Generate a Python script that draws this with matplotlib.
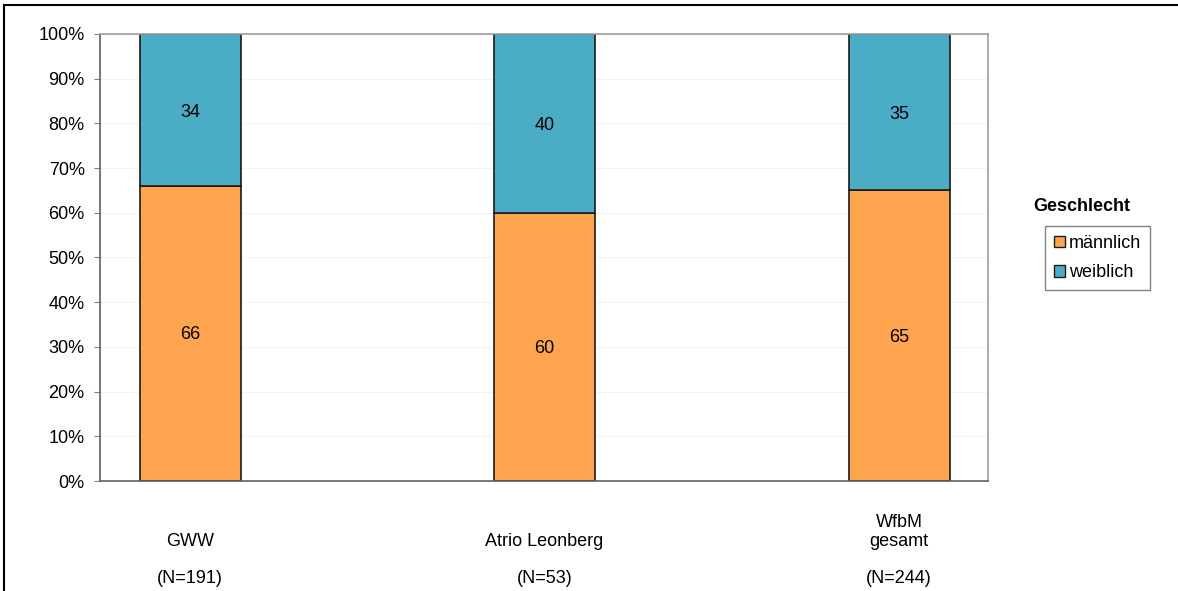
import numpy as np
import matplotlib
matplotlib.use("Agg")
import matplotlib.pyplot as plt
from matplotlib.patches import Rectangle, Patch
import matplotlib.transforms as mtransforms

plt.rcParams['font.family'] = ['Liberation Sans', 'DejaVu Sans']
plt.rcParams['font.size'] = 13

# Gender split per workshop, in percent
groups = ['GWW', 'Atrio Leonberg', 'WfbM\ngesamt']
sample_sizes = [191, 53, 244]
maennlich = [66, 60, 65]
weiblich = [34, 40, 35]

c_male = '#FFA54F'
c_female = '#4BACC6'

fig = plt.figure(figsize=(11.78, 5.91), dpi=100)
ax = fig.add_axes([0.0849, 0.1861, 0.7538, 0.7564])

x = np.arange(len(groups))
w = 0.285
ax.bar(x, maennlich, w, color=c_male, edgecolor='#1a1a1a', linewidth=1.2)
ax.bar(x, weiblich, w, bottom=maennlich, color=c_female,
       edgecolor='#1a1a1a', linewidth=1.2)

# Value labels in the middle of each segment
for xi, m, f in zip(x, maennlich, weiblich):
    ax.text(xi, m / 2 - 0.3, str(m), ha='center', va='center')
    ax.text(xi, m + f / 2 - 0.5, str(f), ha='center', va='center')

ax.set_xlim(-0.254, 2.251)
ax.set_ylim(0, 100)
ax.set_yticks(np.arange(0, 101, 10))
ax.set_yticklabels(['%d%%' % v for v in range(0, 101, 10)])
ax.yaxis.grid(True, color='#f3f3f3', linewidth=0.8)
ax.set_axisbelow(True)
ax.tick_params(axis='y', direction='out', length=4, color='#808080', pad=7)
ax.set_xticks([])

for side in ['left', 'bottom']:
    ax.spines[side].set_color('#606060')
    ax.spines[side].set_linewidth(1.2)
for side in ['top', 'right']:
    ax.spines[side].set_color('#a0a0a0')
    ax.spines[side].set_linewidth(1.2)

# Category labels below the axis with sample sizes
trans = mtransforms.blended_transform_factory(ax.transData, ax.transAxes)
for xi, g, n in zip(x, groups, sample_sizes):
    ax.text(xi, -0.238, '%s\n\n(N=%d)' % (g, n), transform=trans,
            ha='center', va='bottom', multialignment='center',
            linespacing=1.15)

# Legend with title placed above the box
fig.text(0.9185, 0.650, 'Geschlecht', ha='center', va='center',
         fontweight='bold')
handles = [Patch(facecolor=c_male, edgecolor='#1a1a1a', label='männlich'),
           Patch(facecolor=c_female, edgecolor='#1a1a1a', label='weiblich')]
leg = fig.legend(handles=handles, loc='center', bbox_to_anchor=(0.9317, 0.5635),
                 handlelength=0.6, handleheight=0.6,
                 handletextpad=0.2, labelspacing=0.7, borderpad=0.5,
                 fancybox=False, edgecolor='#808080', framealpha=1)
leg.get_frame().set_linewidth(1.0)

# Outer frame around the chart
fig.patches.append(Rectangle((0.0038, -0.05), 1.1, 1.0416, transform=fig.transFigure,
                             fill=False, edgecolor='black', linewidth=1.5))

fig.savefig('out.png', dpi=100)
